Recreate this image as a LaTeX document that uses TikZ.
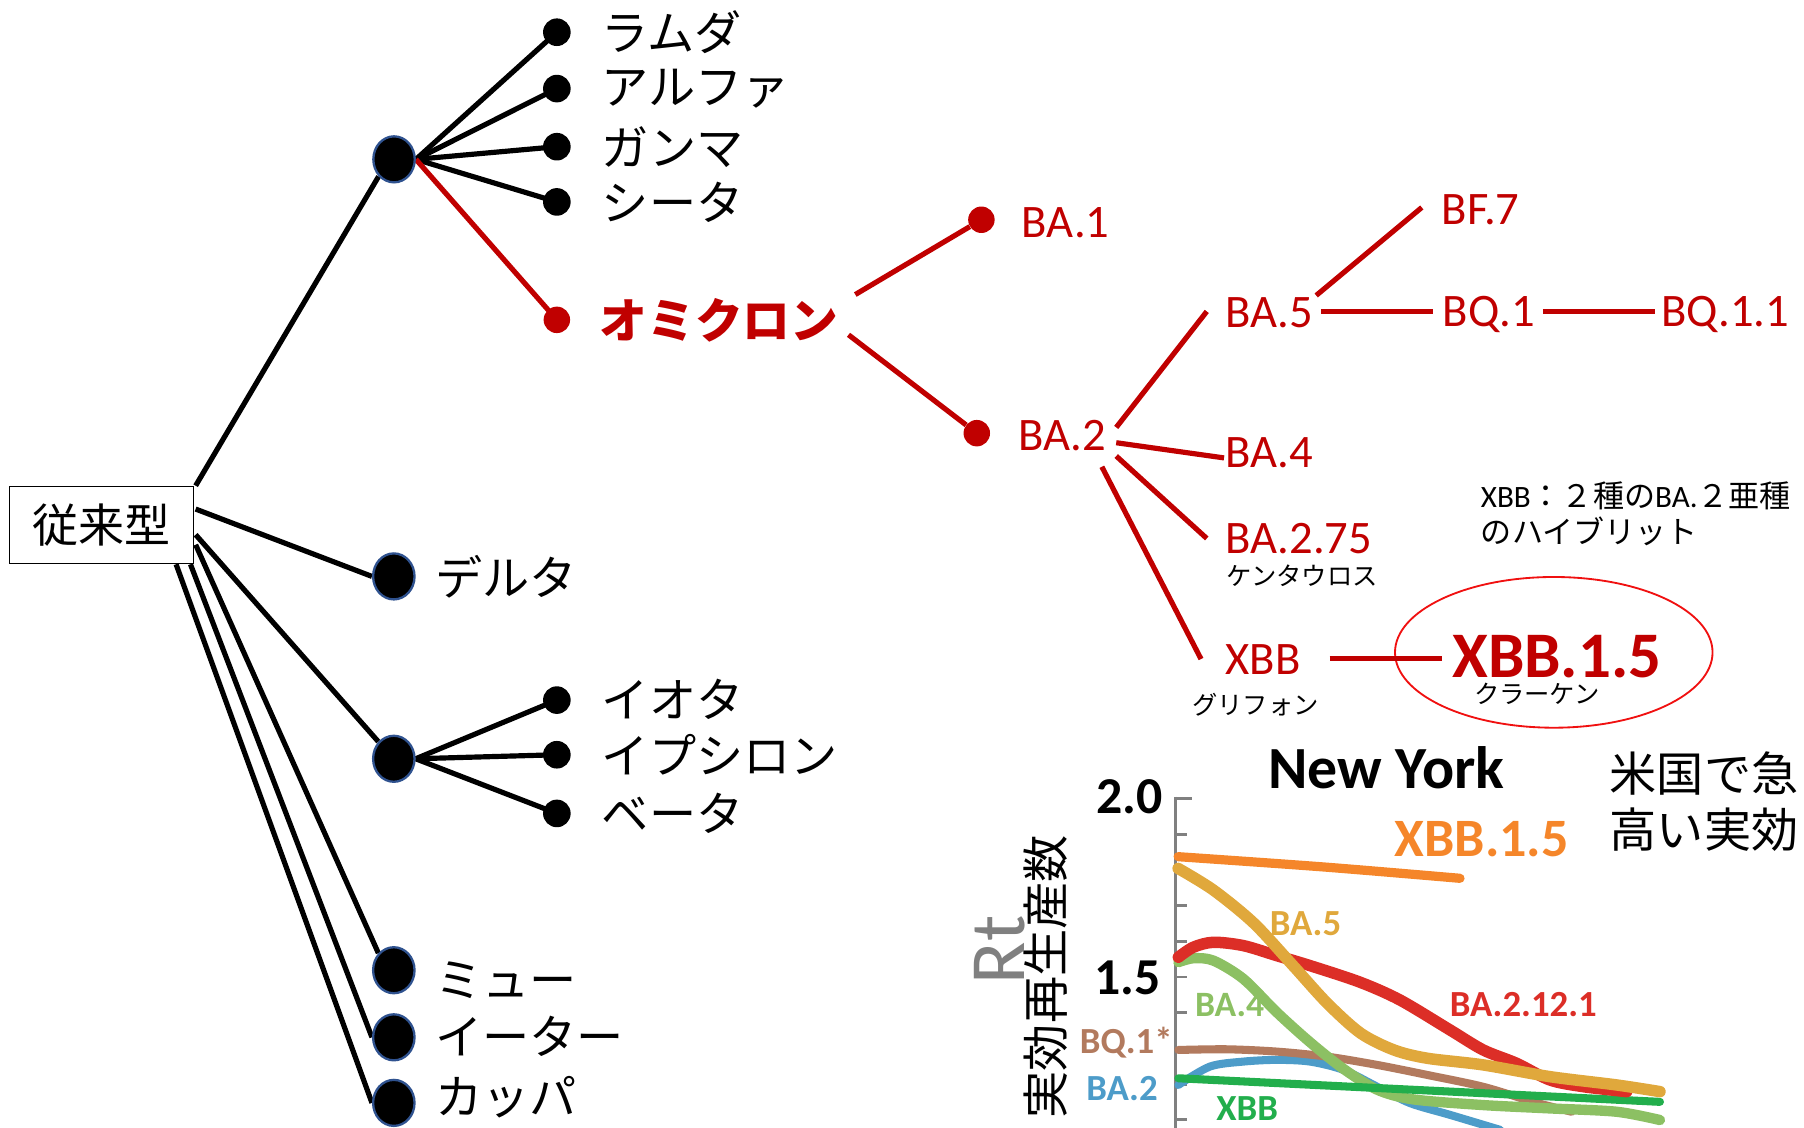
\documentclass[tikz,border=0pt]{standalone}
\usepackage{fontspec}
\setmainfont{Carlito}
\newfontfamily\jp{Noto Sans CJK JP}
\usetikzlibrary{shapes.geometric,calc,backgrounds}
\definecolor{ored}{HTML}{C00000}
\definecolor{dotblue}{HTML}{2F528F}
\definecolor{ovalred}{HTML}{F01010}
\definecolor{axisgray}{HTML}{808080}
\definecolor{cOrange}{HTML}{F5862A}
\definecolor{cGold}{HTML}{E0A83C}
\definecolor{cRed}{HTML}{DC2E27}
\definecolor{cLGreen}{HTML}{8CC063}
\definecolor{cBrown}{HTML}{B27A5E}
\definecolor{cBlue}{HTML}{4D9CC9}
\definecolor{cGreen}{HTML}{22AE4C}
\begin{document}
\begin{tikzpicture}[x=1pt,y=-1pt,
  bigdot/.style={ellipse,fill=black,draw=dotblue,line width=2pt,minimum width=36pt,minimum height=40pt,inner sep=0pt},
  smalldot/.style={circle,fill=black,minimum size=24pt,inner sep=0pt},
  reddot/.style={circle,fill=ored,minimum size=23pt,inner sep=0pt},
  blk/.style={line width=4.5pt,black},
  rln/.style={line width=4.5pt,ored},
  jlab/.style={anchor=west,inner sep=0pt,font=\jp\fontsize{41}{48}\selectfont},
  jsmall/.style={anchor=west,inner sep=0pt,font=\jp\fontsize{22}{26}\selectfont},
  rlab/.style={anchor=base west,inner sep=0pt,text=ored,font=\fontsize{40.5}{46}\selectfont},
  clab/.style={anchor=base west,inner sep=0pt,font=\bfseries\fontsize{32}{36}\selectfont},
  rtcurve/.style={line width=#1,line cap=round,line join=round},
]
\useasboundingbox (0,0) rectangle (1568,980);

% ---------- left tree ----------
\node[draw,line width=1.3pt,minimum width=160pt,minimum height=67pt,inner sep=0pt,font=\jp\fontsize{40}{48}\selectfont] (box) at (88.4,456.3) {従来型};

\node[bigdot] (bigA) at (342.5,138.5) {};
\node[bigdot] (delta) at (342.3,501) {};
\node[bigdot] (bigB) at (342.3,659.5) {};
\node[bigdot] (mu) at (342.3,843.3) {};
\node[bigdot] (eta) at (342.3,901.6) {};
\node[bigdot] (kappa) at (342.3,958.6) {};

\node[smalldot] (lam) at (484,28) {};
\node[smalldot] (alp) at (484,77) {};
\node[smalldot] (gam) at (484,127.5) {};
\node[smalldot] (the) at (484,175.5) {};
\node[reddot] (omid) at (484,278) {};
\node[smalldot] (iot) at (484,608.5) {};
\node[smalldot] (eps) at (484,656) {};
\node[smalldot] (bet) at (484,707) {};

\node[jlab] (tlam) at (523,28) {ラムダ};
\node[jlab] (talp) at (523,77) {アルファ};
\node[jlab] (tgam) at (523,128) {ガンマ};
\node[jlab] (tthe) at (523,176) {シータ};
\node[jlab,text=ored,font=\jp\bfseries\fontsize{41.5}{48}\selectfont] (omi) at (521,278) {オミクロン};
\node[jlab] (tdel) at (378,501) {デルタ};
\node[jlab] (tiot) at (523,608) {イオタ};
\node[jlab] (teps) at (523,656) {イプシロン};
\node[jlab] (tbet) at (523,707) {ベータ};
\node[jlab] (tmu) at (378,852) {ミュー};
\node[jlab] (teta) at (378,901) {イーター};
\node[jlab] (tkap) at (378,953.5) {カッパ};

\begin{scope}[on background layer]
\draw[blk] (bigA.east) -- (lam.center);
\draw[blk] (bigA.east) -- (alp.center);
\draw[blk] (bigA.east) -- (gam.center);
\draw[blk] (bigA.east) -- (the.center);
\draw[rln] (bigA.east) -- (omid.center);
\draw[blk] (bigB.east) -- (iot.center);
\draw[blk] (bigB.east) -- (eps.center);
\draw[blk] (bigB.east) -- (bet.center);
\draw[blk] ($(box.north east)+(1,0)$) -- (bigA.south west);
\draw[blk] ($(box.north east)+(1,20.3)$) -- (delta.west);
\draw[blk] ($(box.north east)+(1,42.6)$) -- (bigB.north west);
\draw[blk] ($(box.north east)+(1,51.3)$) -- (mu.north west);
\draw[blk] ($(box.south east)+(-3.5,0)$) -- (eta.west);
\draw[blk] ($(box.south east)+(-16,0)$) -- (kappa.west);
\end{scope}

% ---------- omicron tree ----------
\node[reddot] (ba1d) at (853,191) {};
\node[reddot] (ba2d) at (849,376.5) {};
\node[rlab] (ba1) at (888,206) {BA.1};
\node[rlab] (ba2) at (885,391.5) {BA.2};
\node[rlab] (ba5) at (1065,285) {BA.5};
\node[rlab] (bf7) at (1253,195) {BF.7};
\node[rlab] (bq1) at (1254,283.5) {BQ.1};
\node[rlab] (bq11) at (1444,283.5) {BQ.1.1};
\node[rlab] (ba4) at (1065,406.4) {BA.4};
\node[rlab] (ba275) at (1065,481.3) {BA.2.75};
\node[rlab] (xbb) at (1065,586) {XBB};
\node[ellipse,draw=ovalred,line width=1.6pt,minimum width=276pt,minimum height=131pt] (oval) at (1350.5,567) {};
\node[rlab,font=\bfseries\fontsize{56.5}{62}\selectfont] (xbb15) at (1262,588.7) {XBB.1.5};
\node[jsmall] (kent) at (1066,500) {ケンタウロス};
\node[jsmall] (grif) at (1036,612.6) {グリフォン};
\node[jsmall] (krak) at (1281,603) {クラーケン};

\draw[rln] ($(omi.west)+(222.4,-22)$) -- (ba1d);
\draw[rln] ($(omi.west)+(216.5,13)$) -- (ba2d);
\draw[rln] ($(ba2.base west)+(85.2,-20)$) -- ($(ba5.base west)+(-16.1,-14.3)$);
\draw[rln] ($(ba2.base west)+(85.2,-6.7)$) -- ($(ba4.base west)+(-1.1,-8.4)$);
\draw[rln] ($(ba2.base west)+(85.2,4.9)$) -- ($(ba275.base west)+(-16.1,-13.3)$);
\draw[rln] ($(ba2.base west)+(72.7,14.2)$) -- ($(xbb.base west)+(-21.1,-13.2)$);
\draw[rln] ($(ba5.base west)+(79,-28.2)$) -- ($(bf7.base west)+(-17.2,-14.7)$);
\draw[rln] ($(ba5.base west)+(83.1,-14.2)$) -- ($(bq1.base west)+(-8.2,-12.7)$);
\draw[rln] ($(bq1.base west)+(87,-12.7)$) -- ($(bq11.base west)+(-5.2,-12.7)$);
\draw[rln] ($(xbb.base west)+(90.6,-14)$) -- ($(xbb15.base west)+(-8.7,-16.7)$);

\node[anchor=west,inner sep=0pt,font=\fontsize{27}{32}\selectfont] (note1) at (1287,430.6) {XBB{\jp ：２種の}BA.{\jp ２亜種}};
\node[anchor=west,inner sep=0pt,font=\jp\fontsize{27}{32}\selectfont] (note2) at (1287,462) {のハイブリット};

% ---------- chart ----------
\begin{scope}
\clip (0,0) rectangle (1568,980);
\draw[axisgray,line width=2.8pt] (1022,692.5) -- (1022,990);
\draw[axisgray,line width=2.5pt] (1022,693.9) -- ++(14,0);
\foreach \k in {1,...,9} \draw[axisgray,line width=2.5pt] (1022,{693.9+31.05*\k}) -- ++(10,0);

\draw[rtcurve=7pt,cBlue] plot[smooth] coordinates {(1024.2,943) (1051.7,927) (1080.7,922.7) (1109.7,921.2) (1138.7,922.7) (1167.7,929.9) (1196.7,944.4) (1225.6,958.8) (1260.3,969) (1303.8,982)};
\draw[rtcurve=7pt,cBrown] plot[smooth] coordinates {(1024.2,912.6) (1066.2,912) (1109.7,914) (1153.6,918.4) (1197,925.6) (1240.5,934.3) (1289.2,944.6) (1332.6,957.7) (1366,966.3)};
\draw[rtcurve=9pt,cLGreen] plot[smooth] coordinates {(1024.2,836.3) (1037.2,832.9) (1054.6,834.9) (1080.7,850.8) (1109.7,879.8) (1138.7,905.9) (1167.7,929) (1196.7,947) (1228,955.5) (1289.2,960.5) (1347.2,963.4) (1405.1,966.3) (1442.8,973.5)};
\draw[rtcurve=7pt,cGreen] (1024.2,937.2) -- (1442.8,957.7);
\draw[rtcurve=10pt,cRed] plot[smooth] coordinates {(1024.2,832) (1037.2,823.3) (1054.6,819) (1080.7,821.9) (1109.7,830.6) (1138.7,839.3) (1182.1,853.7) (1216.9,869.2) (1260.3,895.2) (1289.2,912.6) (1318.2,924.2) (1347.2,938.7) (1376.2,944.5) (1413.9,948.8)};
\draw[rtcurve=10pt,cGold] plot[smooth] coordinates {(1024,754.8) (1054.6,773.6) (1089.9,802.5) (1124.7,840.2) (1153.6,872) (1182.6,898) (1211.6,912.6) (1240.5,919.8) (1289.2,925.6) (1347.2,935.8) (1405.1,943) (1442.8,948.8)};
\draw[rtcurve=8pt,cOrange] plot[smooth] coordinates {(1024,744.6) (1150,753.5) (1269,763.4)};
\end{scope}

\node[clab,text=cOrange,font=\bfseries\fontsize{47}{52}\selectfont] (lxbb15) at (1212,744.6) {XBB.1.5};
\node[clab,text=cGold] (lba5) at (1103.5,812.7) {BA.5};
\node[clab,text=cRed] (lba2121) at (1260,883.7) {BA.2.12.1};
\node[clab,text=cLGreen,font=\bfseries\fontsize{31}{36}\selectfont] (lba4) at (1038.5,883.7) {BA.4};
\node[clab,text=cBrown] (lbq1) at (938.5,915.5) {BQ.1*};
\node[clab,text=cBlue] (lba2) at (944,956.1) {BA.2};
\node[clab,text=cGreen] (lxbb) at (1057,973.5) {XBB};
\node[clab,font=\bfseries\fontsize{45}{50}\selectfont] (t20) at (953,706.9) {2.0};
\node[clab,font=\bfseries\fontsize{45}{50}\selectfont] (t15) at (951,864.8) {1.5};
\node[anchor=base,inner sep=0pt,font=\bfseries\fontsize{52}{58}\selectfont] (ny) at (1205,685.2) {New York};
\node[rotate=90,inner sep=0pt,text=axisgray,font=\fontsize{68}{72}\selectfont] (rt) at (868.5,825.7) {Rt};
\node[rotate=90,inner sep=0pt,font=\jp\fontsize{41}{48}\selectfont] (jrt) at (909,849) {実効再生産数};
\node[anchor=west,inner sep=0pt,font=\jp\fontsize{41}{48}\selectfont] (us1) at (1399,672) {米国で急};
\node[anchor=west,inner sep=0pt,font=\jp\fontsize{41}{48}\selectfont] (us2) at (1399,721) {高い実効};
\end{tikzpicture}
\end{document}
